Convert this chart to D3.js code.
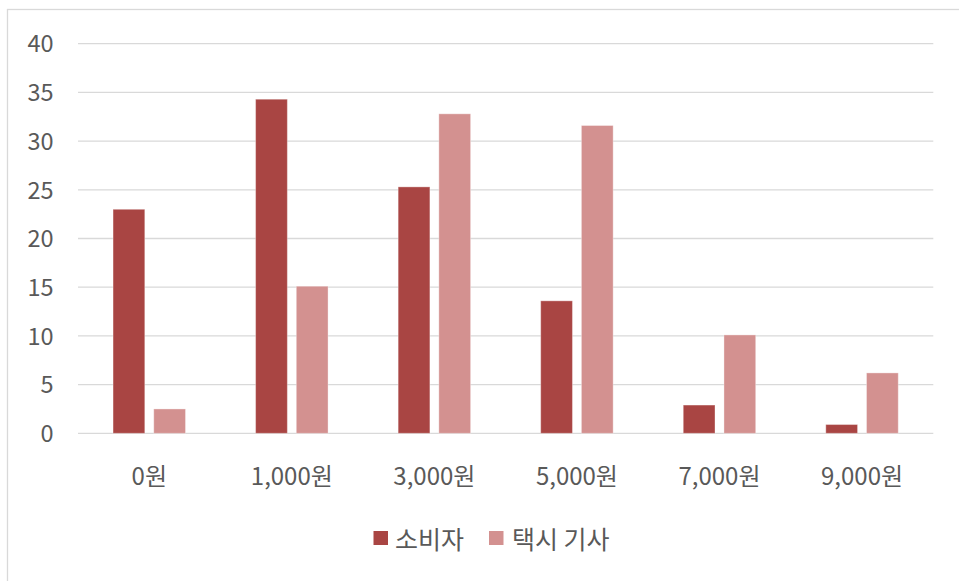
<!DOCTYPE html>
<html>
<head>
<meta charset="utf-8">
<script src="https://cdn.jsdelivr.net/npm/d3@7"></script>
<style>
  html, body { margin: 0; padding: 0; background: #fff; }
  svg { display: block; }
  text { font-family: "Noto Sans CJK KR", "Noto Sans", sans-serif; fill: #595959; }
</style>
</head>
<body>
<svg id="chart" width="959" height="581"></svg>
<script>
// Fare categories and the share (%) of each group choosing them
const categories = ["0원", "1,000원", "3,000원", "5,000원", "7,000원", "9,000원"];
const seriesNames = ["소비자", "택시 기사"];
const consumerValues = [23.0, 34.3, 25.3, 13.6, 2.9, 0.9];
const driverValues = [2.5, 15.1, 32.8, 31.6, 10.1, 6.2];
const yTicks = [0, 5, 10, 15, 20, 25, 30, 35, 40];
const colors = ["#A94543", "#D39190"];

const svg = d3.select("#chart");

// outer chart frame
svg.append("rect")
  .attr("x", 7.5).attr("y", 9.5)
  .attr("width", 1000).attr("height", 1000)
  .attr("fill", "none").attr("stroke", "#D9D9D9").attr("stroke-width", 1.3);

const plot = { left: 78, right: 933.3, top: 43.7, bottom: 433.3 };

const y = d3.scaleLinear().domain([0, 40]).range([plot.bottom, plot.top]);
const x0 = d3.scaleBand().domain(categories).range([plot.left, plot.right]).padding(0);
const x1 = d3.scaleBand().domain(seriesNames).range([0, x0.bandwidth()])
  .paddingInner(0.22).paddingOuter(0.861);

// horizontal gridlines
svg.append("g").selectAll("line").data(yTicks).join("line")
  .attr("x1", plot.left).attr("x2", plot.right)
  .attr("y1", d => y(d)).attr("y2", d => y(d))
  .attr("stroke", "#D9D9D9").attr("stroke-width", 1.3);

// y tick labels
const yAxis = d3.axisLeft(y).tickValues(yTicks).tickSize(0).tickPadding(0);
const gy = svg.append("g").attr("transform", "translate(53.5,0)").call(yAxis);
gy.select(".domain").remove();
gy.selectAll("text").attr("font-size", 23.5).attr("fill", "#595959")
  .style("font-family", '"Noto Sans CJK KR", sans-serif').attr("dy", "0.35em");

// bars
const rows = categories.map((c, i) => ({ cat: c, vals: [consumerValues[i], driverValues[i]] }));
const groups = svg.append("g").selectAll("g").data(rows).join("g")
  .attr("transform", d => `translate(${x0(d.cat)},0)`);
groups.selectAll("rect")
  .data(d => d.vals.map((v, j) => ({ name: seriesNames[j], v, j })))
  .join("rect")
  .attr("x", d => x1(d.name))
  .attr("width", x1.bandwidth())
  .attr("y", d => y(d.v))
  .attr("height", d => y(0) - y(d.v))
  .attr("fill", d => colors[d.j])
  .attr("stroke", "rgba(255,255,255,0.35)").attr("stroke-width", 1);

// x category labels
const xAxis = d3.axisBottom(x0).tickSize(0).tickPadding(0);
const gx = svg.append("g").attr("transform", "translate(0,484.5)").call(xAxis);
gx.select(".domain").remove();
gx.selectAll("text").attr("font-size", 24).attr("fill", "#595959")
  .style("font-family", '"Noto Sans CJK KR", sans-serif').attr("dy", 0);

// legend
const legendItems = [
  { name: seriesNames[0], color: colors[0], kx: 373.5, tx: 395 },
  { name: seriesNames[1], color: colors[1], kx: 489, tx: 512 }
];
const lg = svg.append("g");
lg.selectAll("rect").data(legendItems).join("rect")
  .attr("x", d => d.kx).attr("y", 531).attr("width", 14.5).attr("height", 14)
  .attr("fill", d => d.color);
lg.selectAll("text").data(legendItems).join("text")
  .attr("x", d => d.tx).attr("y", 549)
  .attr("font-size", 25)
  .text(d => d.name);
</script>
</body>
</html>
